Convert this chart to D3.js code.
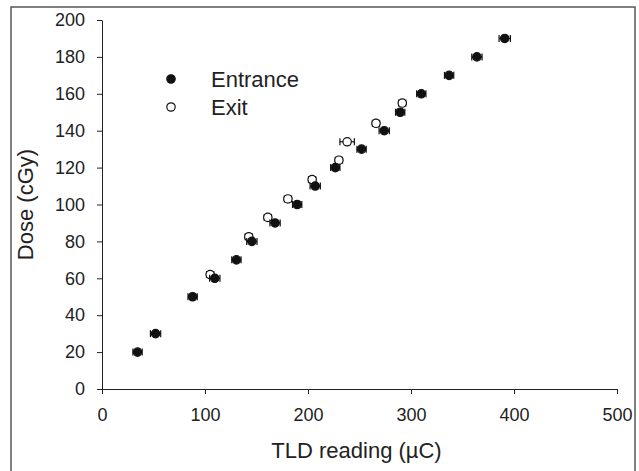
<!DOCTYPE html>
<html>
<head>
<meta charset="utf-8">
<script src="https://cdn.jsdelivr.net/npm/d3@7"></script>
<style>
  html, body { margin: 0; padding: 0; background: #fff; }
  svg { display: block; font-family: "Liberation Sans", Arial, sans-serif; }
</style>
</head>
<body>
<svg id="chart" width="639" height="471"></svg>
<script>
// Entrance dosimeters: delivered dose (cGy) vs TLD reading (µC) with reading uncertainty
const entranceDose = [20, 30, 50, 60, 70, 80, 90, 100, 110, 120, 130, 140, 150, 160, 170, 180, 190];
const entranceTLD  = [34.5, 52, 88, 109.5, 130.5, 145.5, 168, 189.5, 207, 226.5, 252, 274, 289.5, 310, 337, 364, 391];
const entranceErr  = [4.5, 5, 4.5, 5, 4.5, 5, 5, 4.5, 5, 4.5, 4.5, 5, 4.5, 4.5, 4.5, 5, 5.5];

// Exit dosimeters
const exitDose = [62, 82.5, 93, 103, 113.5, 124, 134, 144, 155];
const exitTLD  = [105, 142.5, 161, 180.5, 204, 230, 238, 266, 291.5];
const exitErr  = [3.5, 3.5, 3.5, 3.5, 3.5, 3.5, 7, 3.5, 3.5];

const xTicks = [0, 100, 200, 300, 400, 500];
const yTicks = [0, 20, 40, 60, 80, 100, 120, 140, 160, 180, 200];

const svg = d3.select("#chart");

// outer frame
svg.append("rect")
  .attr("x", 11).attr("y", 7)
  .attr("width", 624).attr("height", 480)
  .attr("fill", "none").attr("stroke", "#555").attr("stroke-width", 1.5);

const x = d3.scaleLinear().domain([0, 500]).range([102, 617]);
const y = d3.scaleLinear().domain([0, 200]).range([389, 20]);

const xAxis = svg.append("g")
  .attr("transform", `translate(0,${y(0)})`)
  .call(d3.axisBottom(x).tickValues(xTicks).tickSize(5).tickSizeOuter(0).tickPadding(14));
const yAxis = svg.append("g")
  .attr("transform", `translate(${x(0)},0)`)
  .call(d3.axisLeft(y).tickValues(yTicks).tickSize(5).tickSizeOuter(0).tickPadding(12));

[xAxis, yAxis].forEach(g => {
  g.selectAll("path, line").attr("stroke", "#222").attr("stroke-width", 1);
  g.selectAll("text").attr("font-size", 18).attr("fill", "#222")
    .attr("font-family", "'Liberation Sans', Arial, sans-serif");
});

// axis titles
svg.append("text")
  .attr("x", (x(0) + x(500)) / 2 - 3).attr("y", 458)
  .attr("text-anchor", "middle").attr("font-size", 22).attr("fill", "#222")
  .text("TLD reading (µC)");
svg.append("text")
  .attr("transform", `translate(33,${(y(0) + y(200)) / 2}) rotate(-90)`)
  .attr("text-anchor", "middle").attr("font-size", 22).attr("fill", "#222")
  .text("Dose (cGy)");

const R = 4.2;
const CAP = 3.5;

function drawSeries(tld, dose, err, filled) {
  const pts = tld.map((v, i) => ({ x: v, y: dose[i], e: err[i] }));
  const g = svg.append("g");
  const eb = g.selectAll("g.eb").data(pts).join("g").attr("class", "eb")
    .attr("stroke", "#111").attr("stroke-width", 1.2);
  eb.append("line")
    .attr("x1", d => x(d.x - d.e)).attr("x2", d => x(d.x + d.e))
    .attr("y1", d => y(d.y)).attr("y2", d => y(d.y));
  eb.append("line")
    .attr("x1", d => x(d.x - d.e)).attr("x2", d => x(d.x - d.e))
    .attr("y1", d => y(d.y) - CAP).attr("y2", d => y(d.y) + CAP);
  eb.append("line")
    .attr("x1", d => x(d.x + d.e)).attr("x2", d => x(d.x + d.e))
    .attr("y1", d => y(d.y) - CAP).attr("y2", d => y(d.y) + CAP);
  g.selectAll("circle").data(pts).join("circle")
    .attr("cx", d => x(d.x)).attr("cy", d => y(d.y)).attr("r", R)
    .attr("fill", filled ? "#111" : "#fff")
    .attr("stroke", "#111").attr("stroke-width", 1.2);
}

drawSeries(exitTLD, exitDose, exitErr, false);
drawSeries(entranceTLD, entranceDose, entranceErr, true);

// legend
const legend = [
  { label: "Entrance", filled: true },
  { label: "Exit", filled: false }
];
const lg = svg.append("g");
legend.forEach((d, i) => {
  const cy = 79 + i * 28;
  lg.append("circle").attr("cx", 171).attr("cy", cy).attr("r", R)
    .attr("fill", d.filled ? "#111" : "#fff").attr("stroke", "#111").attr("stroke-width", 1.2);
  lg.append("text").attr("x", 211).attr("y", cy + 8)
    .attr("font-size", 22).attr("fill", "#222").text(d.label);
});
</script>
</body>
</html>
